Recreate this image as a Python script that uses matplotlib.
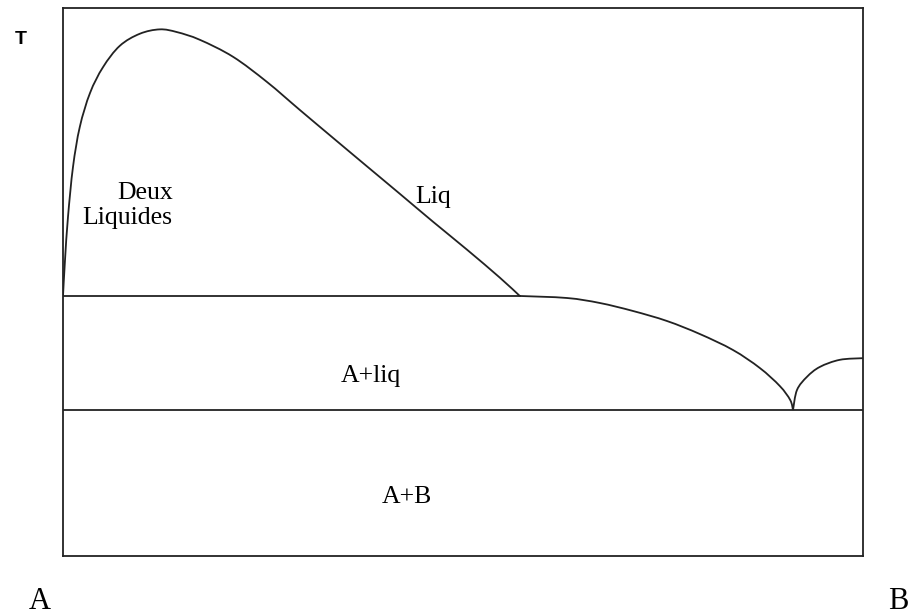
"""
Diagramme binaire A-B avec lacune de miscibilite liquide (monotectique)
et eutectique pres de B.
"""
import numpy as np
import matplotlib
matplotlib.use("Agg")
import matplotlib.pyplot as plt
from matplotlib.path import Path
from matplotlib.patches import PathPatch

# composition x_B (0 = A, 1 = B), temperature en unites arbitraires
gap_x = [0.0, 0.0025, 0.00625, 0.0125, 0.021, 0.0338, 0.05, 0.071, 0.096,
         0.121, 0.1425, 0.171, 0.2125, 0.255, 0.296, 0.3375, 0.38, 0.421,
         0.4625, 0.505, 0.546, 0.571]
gap_T = [47.45, 54.0, 61.9, 71.0, 78.3, 84.5, 89.2, 93.1, 95.3,
         96.1, 95.6, 94.2, 91.1, 86.5, 81.4, 76.3, 71.1, 66.1,
         61.0, 55.9, 50.8, 47.45]

liqA_x = [0.571, 0.63, 0.671, 0.7125, 0.755, 0.796, 0.8375,
          0.871, 0.896, 0.909, 0.9125]
liqA_T = [47.45, 47.08, 46.17, 44.71, 42.88, 40.51, 37.59,
          34.31, 31.02, 28.47, 26.64]

liqB_x = [0.9125, 0.9175, 0.93, 0.946, 0.971, 1.0]
liqB_T = [26.64, 30.3, 32.7, 34.5, 35.8, 36.1]

T_mono = 47.45      # palier monotectique
x_mono = 0.571
T_eut = 26.64       # palier eutectique


def smooth(ax, x, y, **kw):
    # courbe de Bezier (Catmull-Rom) passant par les points lus
    p = np.column_stack([x, y])
    q = np.vstack([p[0], p, p[-1]])
    verts = [p[0]]
    codes = [Path.MOVETO]
    for i in range(1, len(q) - 2):
        c1 = q[i] + (q[i + 1] - q[i - 1]) / 6
        c2 = q[i + 1] - (q[i + 2] - q[i]) / 6
        verts += [c1, c2, q[i + 1]]
        codes += [Path.CURVE4] * 3
    ax.add_patch(PathPatch(Path(verts, codes), fill=False, **kw))


W, H = 911, 616
fig = plt.figure(figsize=(W / 100, H / 100), dpi=100)
ax = fig.add_axes([63 / W, (H - 556) / H, 800 / W, 548 / H])
ax.set_xlim(0, 1)
ax.set_ylim(0, 100)
ax.set_xticks([]); ax.set_yticks([])
for s in ax.spines.values():
    s.set_linewidth(1.3)
    s.set_color("#222222")

lc = "#222222"
lw = 1.3
smooth(ax, gap_x, gap_T, edgecolor=lc, lw=lw)
smooth(ax, liqA_x, liqA_T, edgecolor=lc, lw=lw)
smooth(ax, liqB_x, liqB_T, edgecolor=lc, lw=lw)
ax.plot([0, x_mono], [T_mono, T_mono], color=lc, lw=lw)
ax.plot([0, 1], [T_eut, T_eut], color=lc, lw=lw)

serif = "Liberation Serif"
fs = 18.5
ax.text(0.137, 64.0, "Deux\nLiquides", ha="right", va="center",
        multialignment="right", family=serif, fontsize=fs)
ax.text(0.44, 64.4, "Liq", ha="left", va="baseline", family=serif, fontsize=fs)
ax.text(0.385, 31.75, "A+liq", ha="center", va="baseline", family=serif, fontsize=fs)
ax.text(0.43, 9.7, "A+B", ha="center", va="baseline", family=serif, fontsize=fs)

fig.text(40 / W, 0.0, "A", ha="center", va="bottom",
         family=serif, fontsize=22)
fig.text(898 / W, 0.0, "B", ha="center", va="bottom",
         family=serif, fontsize=22)
fig.text(21 / W, 1 - 40 / H, "T", ha="center", va="center",
         family="Liberation Sans", weight="bold", fontsize=14)

fig.savefig("out.png", dpi=100)
